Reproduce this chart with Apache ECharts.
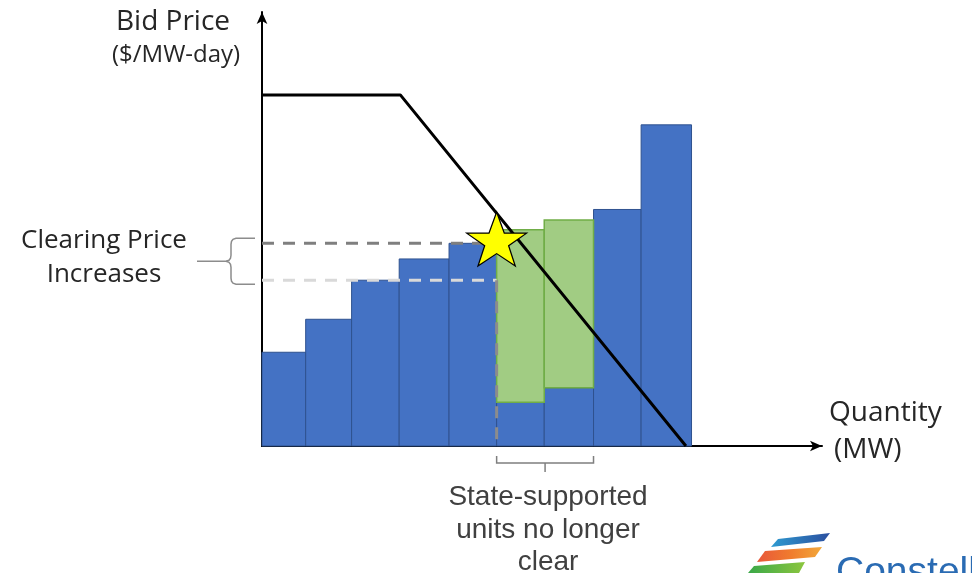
<!DOCTYPE html>
<html>
<head>
<meta charset="utf-8">
<script src="https://cdn.jsdelivr.net/npm/echarts@6/dist/echarts.min.js"></script>
<style>
html,body{margin:0;padding:0;background:#fff;}
#main{width:972px;height:573px;}
</style>
</head>
<body>
<div id="main"></div>
<script>
// Supply stack: quantity boundaries of each offer block (MW, schematic units)
const blockEdges = [0, 7.8, 16.0, 24.5, 33.4, 41.9, 50.4, 59.2, 67.7, 76.7];
// Bid price of each block after state-supported units re-bid (schematic units)
const blockPrices = [21.6, 29.2, 38.2, 43.1, 46.7, 10.1, 13.4, 54.5, 74.0];
// State-supported blocks (index) and their higher bids that no longer clear
const stateIdx = [5, 6];
const stateTops = [49.8, 52.1];
// Demand curve
const demandQ = [0, 24.7, 75.7];
const demandP = [80.9, 80.9, 0];
// Clearing point
const clearQ = [41.9];
const clearP = [47.7];
// Old / new clearing prices (reference lines)
const oldPrice = [38.2];
const newPrice = [46.7];

const blueData = blockPrices.map((p, i) => [blockEdges[i], blockEdges[i + 1], 0, p]);
const greenData = stateIdx.map((i, k) => [blockEdges[i], blockEdges[i + 1], blockPrices[i], stateTops[k]]);

const starPath = 'path://M50,0 L62.5,36 L98.9,36 L69.5,57.5 L80.4,92 L50,71 L19.6,92 L30.5,57.5 L1.1,36 L37.5,36 Z';

function rectItem(fill, stroke, lw) {
  return function (params, api) {
    const p0 = api.coord([api.value(0), api.value(3)]);
    const p1 = api.coord([api.value(1), api.value(2)]);
    return {
      type: 'rect',
      shape: { x: p0[0], y: p0[1], width: p1[0] - p0[0], height: p1[1] - p0[1] },
      style: { fill: fill, stroke: stroke, lineWidth: lw }
    };
  };
}

const chart = echarts.init(document.getElementById('main'), null, { renderer: 'canvas' });

const option = {
  animation: false,
  backgroundColor: '#ffffff',
  grid: { left: 262, right: 150, top: 12, bottom: 127, containLabel: false },
  xAxis: {
    type: 'value', min: 0, max: 100,
    axisLine: { show: true, lineStyle: { color: '#000', width: 2 }, symbol: ['none', 'arrow'], symbolSize: [8, 12] },
    axisTick: { show: false }, axisLabel: { show: false }, splitLine: { show: false }
  },
  yAxis: {
    type: 'value', min: 0, max: 100,
    axisLine: { show: true, lineStyle: { color: '#000', width: 2 }, symbol: ['none', 'arrow'], symbolSize: [8, 12] },
    axisTick: { show: false }, axisLabel: { show: false }, splitLine: { show: false }
  },
  series: [
    { type: 'custom', z: 2, renderItem: rectItem('#4472C4', '#2F528F', 1), data: blueData, encode: { x: [0, 1], y: [2, 3] } },
    { type: 'custom', z: 3, renderItem: rectItem('#A1CC83', '#70AD47', 1.5), data: greenData, encode: { x: [0, 1], y: [2, 3] } },
    { type: 'line', z: 4, symbol: 'none', data: [[0, oldPrice[0]], [clearQ[0], oldPrice[0]]],
      lineStyle: { color: '#D9D9D9', width: 3, type: [12, 9] } },
    { type: 'line', z: 4, symbol: 'none', data: [[clearQ[0], oldPrice[0]], [clearQ[0], 0]],
      lineStyle: { color: '#8C8C8C', width: 3, type: [12, 9] } },
    { type: 'line', z: 4, symbol: 'none', data: [[0, newPrice[0]], [clearQ[0], newPrice[0]]],
      lineStyle: { color: '#7F7F7F', width: 3, type: [12, 9] } },
    { type: 'line', z: 5, symbol: 'none', data: demandQ.map((q, i) => [q, demandP[i]]),
      lineStyle: { color: '#000', width: 3 } },
    { type: 'scatter', z: 6, symbol: starPath, symbolSize: [60, 54], data: clearQ.map((q, i) => [q, clearP[i]]),
      itemStyle: { color: '#FFFF00', borderColor: '#000', borderWidth: 1.2, opacity: 1 } }
  ]
};
chart.setOption(option);

// Annotations (braces tied to data positions)
const yNew = chart.convertToPixel({ gridIndex: 0 }, [0, newPrice[0]])[1];
const yOld = chart.convertToPixel({ gridIndex: 0 }, [0, oldPrice[0]])[1];
const xS0 = chart.convertToPixel({ gridIndex: 0 }, [blockEdges[stateIdx[0]], 0])[0];
const xS1 = chart.convertToPixel({ gridIndex: 0 }, [blockEdges[stateIdx[1] + 1], 0])[0];
const yTop = yNew - 5, yBot = yOld + 4, yMid = (yTop + yBot) / 2;
const bx = 231, ax = 255, tip = 197;
const leftBracePts = [
  [ax, yTop], [bx + 5, yTop], [bx + 2, yTop + 1], [bx + 0.5, yTop + 3], [bx, yTop + 6],
  [bx, yMid - 6], [bx - 0.5, yMid - 3], [bx - 2, yMid - 1], [bx - 5, yMid], [tip, yMid]
];
const leftBracePts2 = [
  [bx - 5, yMid], [bx - 2, yMid + 1], [bx - 0.5, yMid + 3], [bx, yMid + 6],
  [bx, yBot - 6], [bx + 0.5, yBot - 3], [bx + 2, yBot - 1], [bx + 5, yBot], [ax, yBot]
];
const bY = 463, cX = (xS0 + xS1) / 2;

const calibri = '"Open Sans", Lato, sans-serif';
const arial = '"Liberation Sans", Arial, sans-serif';
function grad(stops) {
  return { type: 'linear', x: 0, y: 0, x2: 1, y2: 0, colorStops: stops };
}
chart.setOption({
  graphic: [
    { type: 'polyline', z: 10, shape: { points: leftBracePts }, style: { fill: null, stroke: '#8C8C8C', lineWidth: 1.5 } },
    { type: 'polyline', z: 10, shape: { points: leftBracePts2 }, style: { fill: null, stroke: '#8C8C8C', lineWidth: 1.5 } },
    { type: 'polyline', z: 10, shape: { points: [[xS0, bY - 7], [xS0, bY], [xS1, bY], [xS1, bY - 7]] }, style: { fill: null, stroke: '#7F7F7F', lineWidth: 1.5 } },
    { type: 'line', z: 10, shape: { x1: cX, y1: bY, x2: cX, y2: bY + 9 }, style: { stroke: '#7F7F7F', lineWidth: 1.5 } },
    { type: 'text', style: { text: 'Bid Price', x: 116, y: 22, verticalAlign: 'middle', font: '28px ' + calibri, fill: '#262626' } },
    { type: 'text', style: { text: '($/MW-day)', x: 112, y: 55, verticalAlign: 'middle', font: '24px ' + calibri, fill: '#262626' } },
    { type: 'text', z: 10, style: { text: 'Clearing Price\nIncreases', x: 104, y: 258, align: 'center', verticalAlign: 'middle', font: '26px ' + calibri, lineHeight: 34, fill: '#262626' } },
    { type: 'text', style: { text: 'Quantity', x: 829, y: 413, verticalAlign: 'middle', font: '28px ' + calibri, fill: '#262626' } },
    { type: 'text', style: { text: '(MW)', x: 834, y: 450, verticalAlign: 'middle', font: '28px ' + calibri, fill: '#262626' } },
    { type: 'text', style: { text: 'State-supported\nunits no longer\nclear', x: 548, y: 530, align: 'center', verticalAlign: 'middle', font: '28px ' + arial, lineHeight: 32.5, fill: '#404040' } },
    { type: 'polygon', shape: { points: [[771, 547], [778, 539], [830, 533], [824, 541]] },
      style: { fill: grad([{ offset: 0, color: '#2E9AD0' }, { offset: 1, color: '#2B4FA0' }]) } },
    { type: 'polygon', shape: { points: [[757, 562], [765, 551], [822, 547], [815, 557]] },
      style: { fill: grad([{ offset: 0, color: '#E8573A' }, { offset: 0.5, color: '#F07A2E' }, { offset: 1, color: '#F2A83A' }]) } },
    { type: 'polygon', shape: { points: [[748, 573], [754, 566], [805, 562], [799, 573]] },
      style: { fill: grad([{ offset: 0, color: '#3AA848' }, { offset: 1, color: '#8CC63F' }]) } },
    { type: 'text', style: { text: 'Constellation', x: 836, y: 554, font: '39px ' + arial, fill: '#2A6BB3' } }
  ]
});
</script>
</body>
</html>
